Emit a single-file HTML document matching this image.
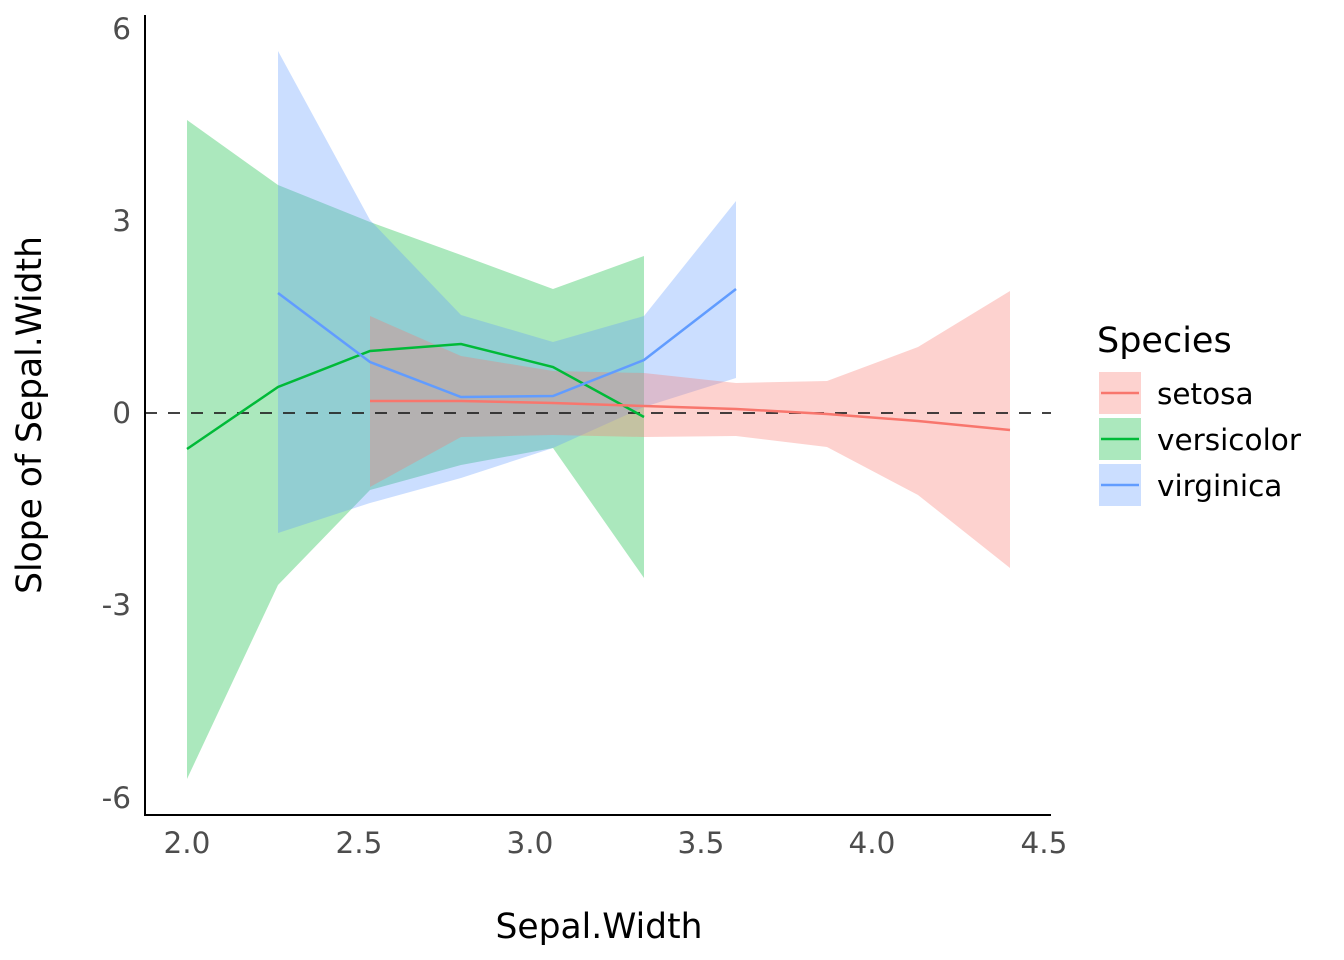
<!DOCTYPE html>
<html><head><style>body{margin:0;background:#fff}svg{display:block}text{font-family:"DejaVu Sans","Liberation Sans",sans-serif}</style></head><body>
<svg width="1344" height="960" xmlns="http://www.w3.org/2000/svg">
<rect width="1344" height="960" fill="#fff"/>
<g fill-opacity="0.33" stroke="none">
<polygon fill="#00BA38" points="187,120 278,185 370,222 461,255 553,289 644,256 644,578 553,448 461,465 370,490 278,585 187,779"/>
<polygon fill="#619CFF" points="278,51 370,220 461,315 553,342 644,316 736,201 736,378 644,407 553,448 461,478 370,503 278,533"/>
<polygon fill="#F8766D" points="370,316 461,356 553,371 644,373 736,383 827,381 918,347 1010,291 1010,568 918,495 827,447 736,436 644,437 553,435 461,437 370,487"/>
</g>
<line x1="145" y1="413" x2="1051" y2="413" stroke="#222" stroke-width="2" stroke-dasharray="12,11" stroke-opacity="0.85"/>
<g fill="none" stroke-width="2.5">
<polyline stroke="#00BA38" points="187,449 278,387 370,351 461,344 553,367 644,417"/>
<polyline stroke="#619CFF" points="278,293 370,362 461,397 553,396 644,360 736,289"/>
<polyline stroke="#F8766D" points="370,401 461,401 553,403 644,406 736,409 827,414 918,421 1010,430"/>
</g>
<line x1="145" y1="15" x2="145" y2="816" stroke="#000" stroke-width="2"/>
<line x1="144" y1="815" x2="1051" y2="815" stroke="#000" stroke-width="2"/>
<g fill="#4d4d4d" font-size="29.5" text-anchor="end">
<text x="131" y="39">6</text><text x="131" y="231">3</text><text x="131" y="423">0</text><text x="131" y="615">-3</text><text x="131" y="808">-6</text>
</g>
<g fill="#4d4d4d" font-size="29.5" text-anchor="middle">
<text x="187" y="853">2.0</text><text x="359" y="853">2.5</text><text x="530" y="853">3.0</text><text x="701" y="853">3.5</text><text x="872" y="853">4.0</text><text x="1044" y="853">4.5</text>
</g>
<text x="599" y="938" font-size="34.5" text-anchor="middle" fill="#000">Sepal.Width</text>
<text transform="translate(41,415) rotate(-90)" font-size="34.5" text-anchor="middle" fill="#000">Slope of Sepal.Width</text>
<text x="1097" y="352" font-size="35" fill="#000">Species</text>
<rect x="1099" y="372" width="42" height="42" fill="#F8766D" fill-opacity="0.33"/>
<line x1="1101" y1="393" x2="1139" y2="393" stroke="#F8766D" stroke-width="2.5"/>
<rect x="1099" y="418" width="42" height="42" fill="#00BA38" fill-opacity="0.33"/>
<line x1="1101" y1="439" x2="1139" y2="439" stroke="#00BA38" stroke-width="2.5"/>
<rect x="1099" y="464" width="42" height="42" fill="#619CFF" fill-opacity="0.33"/>
<line x1="1101" y1="485" x2="1139" y2="485" stroke="#619CFF" stroke-width="2.5"/>
<g font-size="29.5" fill="#000">
<text x="1157" y="404">setosa</text><text x="1157" y="450">versicolor</text><text x="1157" y="496">virginica</text>
</g>
</svg>
</body></html>
